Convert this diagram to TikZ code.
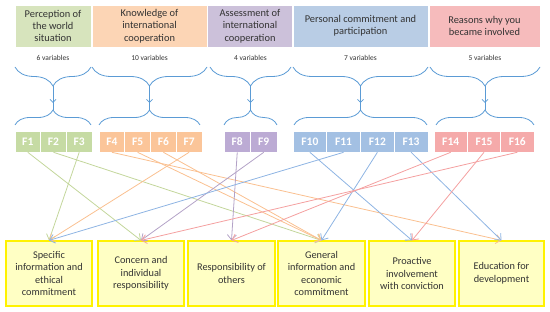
\documentclass[tikz,border=0pt]{standalone}
\usepackage{fontspec}
\setmainfont{Carlito}
\usetikzlibrary{arrows.meta,decorations.pathreplacing}
\definecolor{txt}{HTML}{333333}
\definecolor{hg}{HTML}{D7E4BD}
\definecolor{ho}{HTML}{FCD5B5}
\definecolor{hp}{HTML}{CCC1DA}
\definecolor{hb}{HTML}{B9CDE5}
\definecolor{hr}{HTML}{F6BBBC}
\definecolor{fg}{HTML}{C6DBA4}
\definecolor{fo}{HTML}{FBC599}
\definecolor{fp}{HTML}{BCABD4}
\definecolor{fb}{HTML}{A3C0E3}
\definecolor{fr}{HTML}{F5AAAA}
\definecolor{lg}{HTML}{C3D69B}
\definecolor{lo}{HTML}{FAC090}
\definecolor{lp}{HTML}{B3A2C7}
\definecolor{lb}{HTML}{8EB4E3}
\definecolor{lr}{HTML}{F4A0A0}
\definecolor{bfill}{HTML}{FFFFC4}
\definecolor{bline}{HTML}{FFF200}
\definecolor{brcol}{HTML}{5B9BD5}
\begin{document}
\begin{tikzpicture}[x=1pt,y=-1pt,
  head/.style={minimum height=42pt, inner sep=0pt, align=center,
    font=\fontsize{10.4}{12.4}\selectfont, text=txt, draw=white, line width=0.6pt},
  varlab/.style={font=\fontsize{7.5}{9}\selectfont, text=txt, inner sep=0pt},
  fbox/.style={minimum height=21pt, inner sep=0pt, text=white, draw=white, line width=0.6pt,
    font=\fontsize{11.5}{12}\selectfont\bfseries},
  outbox/.style={minimum height=65pt, inner sep=0pt, align=center, fill=bfill, draw=bline,
    line width=1.2pt, text=txt, font=\fontsize{10.3}{12.5}\selectfont},
  link/.style={line width=0.8pt, -{Straight Barb[length=5pt,width=9pt]}},
  brc/.style={draw=brcol, line width=0.8pt, decorate, decoration={brace, amplitude=#1}},
  bln/.style={draw=brcol, line width=0.8pt},
]
\useasboundingbox (0,0) rectangle (550,312);

% headers
\node[head, fill=hg, minimum width=76pt] (h1) at (53,26) {Perception of\\the world\\situation};
\node[head, fill=ho, minimum width=115pt] (h2) at (149.5,26) {Knowledge of\\international\\cooperation};
\node[head, fill=hp, minimum width=85pt] (h3) at (250,26) {Assessment of\\international\\cooperation};
\node[head, fill=hb, minimum width=135pt] (h4) at (360.5,26) {Personal commitment and\\participation};
\node[head, fill=hr, minimum width=111pt] (h5) at (484.5,26) {Reasons why you\\became involved};

% variable counts
\node[varlab] (v1) at (53,58) {6 variables};
\node[varlab] (v2) at (149.5,58) {10 variables};
\node[varlab] (v3) at (250.5,58) {4 variables};
\node[varlab] (v4) at (360.5,58) {7 variables};
\node[varlab] (v5) at (485,58) {5 variables};

% upper braces
\draw[brc=19pt] (91,67) -- (15,67);
\draw[brc=19pt] (207,67) -- (92,67);
\draw[brc=19pt] (291,67) -- (210,67);
\draw[brc=19pt] (428,67) -- (293,67);
\draw[brc=19pt] (540,67) -- (430,67);
% lower braces
\draw[brc=15pt] (15,125) -- (91,125);
\draw[brc=15pt] (99,125) -- (200,125);
\draw[brc=15pt] (224,125) -- (277,125);
\draw[brc=15pt] (294,125) -- (427,125);
\draw[brc=15pt] (436,125) -- (534,125);

% brace tips and joining arrows
\coordinate (u1) at (53,86);    \coordinate (d1) at (53,110);
\coordinate (u2) at (149.5,86); \coordinate (d2) at (149.5,110);
\coordinate (u3) at (250.5,86); \coordinate (d3) at (250.5,110);
\coordinate (u4) at (360.5,86); \coordinate (d4) at (360.5,110);
\coordinate (u5) at (485,86);   \coordinate (d5) at (485,110);
\foreach \i in {1,...,5}{
  \draw[bln] (u\i) -- (d\i);
  \draw[bln, -{Straight Barb[length=3pt,width=6pt]}] (u\i) -- ++(0,17);
}

% factor boxes
\node[fbox, fill=fg, minimum width=25.67pt] (F1) at (27.8,141.5) {F1};
\node[fbox, fill=fg, minimum width=25.67pt] (F2) at (53.5,141.5) {F2};
\node[fbox, fill=fg, minimum width=25.67pt] (F3) at (79.2,141.5) {F3};
\node[fbox, fill=fo, minimum width=25.75pt] (F4) at (111.9,141.5) {F4};
\node[fbox, fill=fo, minimum width=25.75pt] (F5) at (137.6,141.5) {F5};
\node[fbox, fill=fo, minimum width=25.75pt] (F6) at (163.4,141.5) {F6};
\node[fbox, fill=fo, minimum width=25.75pt] (F7) at (189.1,141.5) {F7};
\node[fbox, fill=fp, minimum width=26.5pt] (F8) at (237.25,141.5) {F8};
\node[fbox, fill=fp, minimum width=26.5pt] (F9) at (263.75,141.5) {F9};
\node[fbox, fill=fb, minimum width=33.75pt] (F10) at (309.9,141.5) {F10};
\node[fbox, fill=fb, minimum width=33.75pt] (F11) at (343.6,141.5) {F11};
\node[fbox, fill=fb, minimum width=33.75pt] (F12) at (377.4,141.5) {F12};
\node[fbox, fill=fb, minimum width=33.75pt] (F13) at (411.1,141.5) {F13};
\node[fbox, fill=fr, minimum width=33.33pt] (F14) at (450.7,141.5) {F14};
\node[fbox, fill=fr, minimum width=33.33pt] (F15) at (484,141.5) {F15};
\node[fbox, fill=fr, minimum width=33.33pt] (F16) at (517.3,141.5) {F16};

% outcome boxes
\node[outbox, minimum width=86pt] (b1) at (49,273.5) {Specific\\information and\\ethical\\commitment};
\node[outbox, minimum width=86pt] (b2) at (141,273.5) {Concern and\\individual\\responsibility};
\node[outbox, minimum width=87pt] (b3) at (231.5,273.5) {Responsibility of\\others};
\node[outbox, minimum width=87pt] (b4) at (321.5,273.5) {General\\information and\\economic\\commitment};
\node[outbox, minimum width=86pt] (b5) at (412,273.5) {Proactive\\involvement\\with conviction};
\node[outbox, minimum width=85pt] (b6) at (501.5,273.5) {Education for\\development};

% links
\draw[link, lg] (F1.south) -- (b2.north);
\draw[link, lg] (F2.south) -- (b4.north);
\draw[link, lg] (F3.south) -- (b1.north);
\draw[link, lo] (F4.south) -- (b6.north);
\draw[link, lo] (F5.south) -- (b4.north);
\draw[link, lo] (F6.south) -- (b4.north);
\draw[link, lo] (F7.south) -- (b1.north);
\draw[link, lp] (F8.south) -- (b3.north);
\draw[link, lp] (F9.south) -- (b2.north);
\draw[link, lb] (F10.south) -- (b5.north);
\draw[link, lb] (F11.south) -- (b1.north);
\draw[link, lb] (F12.south) -- (b4.north);
\draw[link, lb] (F13.south) -- (b6.north);
\draw[link, lr] (F14.south) -- (b3.north);
\draw[link, lr] (F15.south) -- (b5.north);
\draw[link, lr] (F16.south) -- (b2.north);
\end{tikzpicture}
\end{document}
